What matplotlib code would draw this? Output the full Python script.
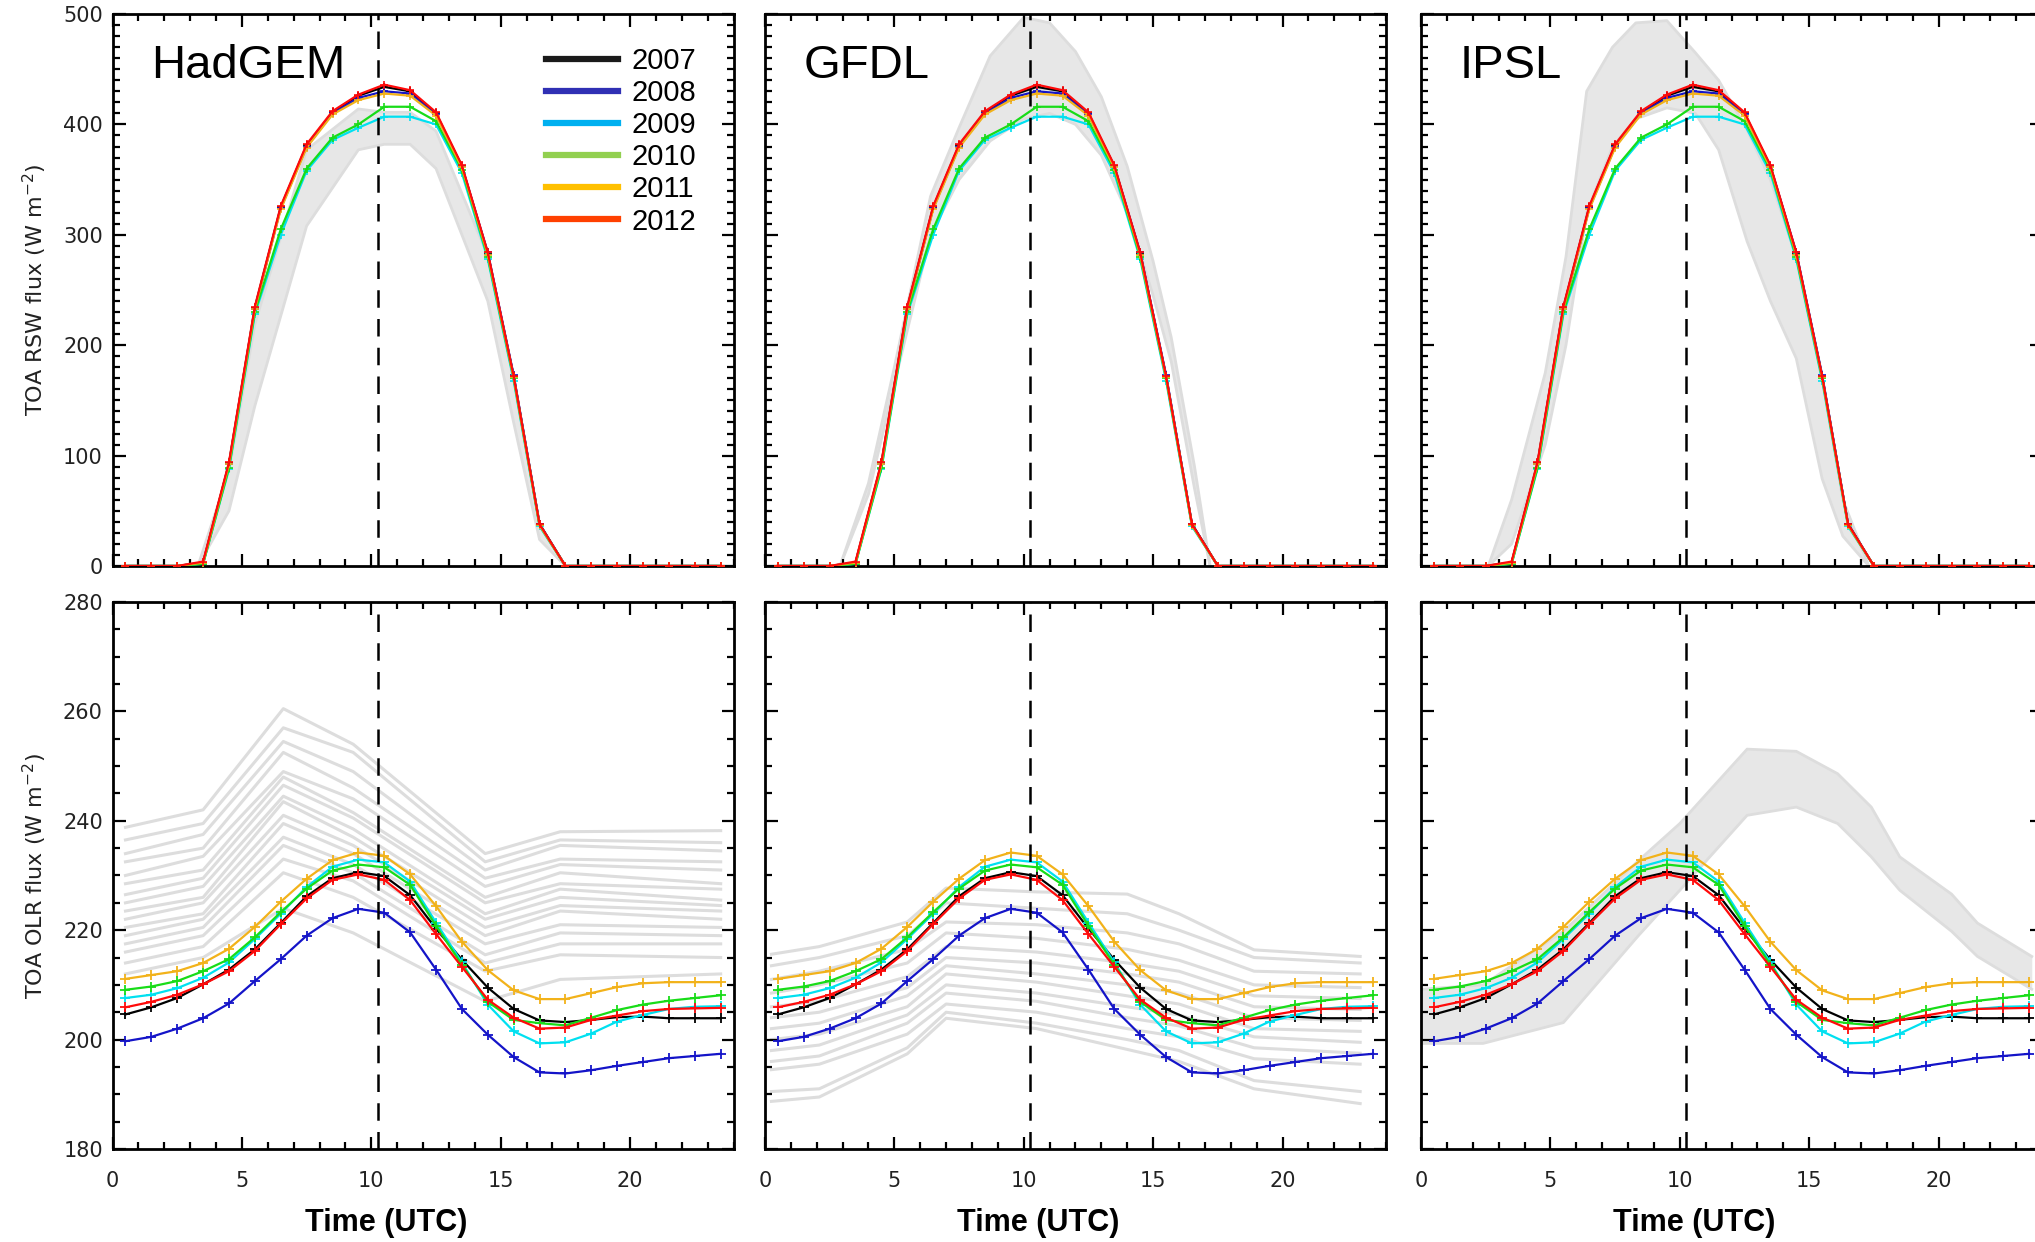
import matplotlib
matplotlib.use("Agg")
import matplotlib.pyplot as plt
from matplotlib.lines import Line2D
from matplotlib.ticker import MultipleLocator

# ---------------- data ----------------
hours = [0.5, 1.5, 2.5, 3.5, 4.5, 5.5, 6.5, 7.5, 8.5, 9.5, 10.5, 11.5,
         12.5, 13.5, 14.5, 15.5, 16.5, 17.5, 18.5, 19.5, 20.5, 21.5, 22.5, 23.5]
years = ["2007", "2008", "2009", "2010", "2011", "2012"]
line_colors = ["#000000", "#1414c8", "#00e0f0", "#18dc18", "#f2b21a", "#ff0a0a"]
legend_colors = ["#1a1a1a", "#3030b4", "#00b0f0", "#92d050", "#ffc000", "#ff4000"]
models = ["HadGEM", "GFDL", "IPSL"]

# TOA reflected shortwave (W m-2), observations
rsw_2007 = [0, 0, 0, 3, 93, 234, 325, 381, 411, 426, 434, 430, 410, 362, 283, 172, 38, 0, 0, 0, 0, 0, 0, 0]
rsw_2008 = [0, 0, 0, 3, 92, 233, 324, 380, 410, 424, 430, 428, 409, 362, 284, 173, 38, 0, 0, 0, 0, 0, 0, 0]
rsw_2009 = [0, 0, 0, 2, 88, 228, 300, 358, 386, 397, 407, 407, 400, 356, 278, 168, 36, 0, 0, 0, 0, 0, 0, 0]
rsw_2010 = [0, 0, 0, 2, 89, 230, 305, 360, 388, 400, 416, 416, 403, 359, 280, 170, 37, 0, 0, 0, 0, 0, 0, 0]
rsw_2011 = [0, 0, 0, 3, 92, 233, 323, 379, 409, 422, 428, 426, 408, 361, 282, 171, 37, 0, 0, 0, 0, 0, 0, 0]
rsw_2012 = [0, 0, 0, 4, 94, 235, 326, 382, 412, 427, 436, 431, 411, 363, 284, 172, 38, 0, 0, 0, 0, 0, 0, 0]

# TOA outgoing longwave (W m-2), observations
olr_2007 = [204.6, 205.9, 207.6, 210.1, 212.8, 216.5, 221.3, 226.2, 229.5, 230.6, 229.9, 226.4,
            220.3, 214.6, 209.5, 205.6, 203.5, 203.2, 203.6, 204.1, 204.2, 203.9, 203.9, 203.9]
olr_2008 = [199.7, 200.5, 202.0, 203.9, 206.6, 210.7, 214.7, 219.0, 222.2, 223.9, 223.2, 219.6,
            212.8, 205.6, 200.9, 196.8, 194.0, 193.8, 194.4, 195.2, 195.9, 196.6, 197.0, 197.4]
olr_2009 = [207.6, 208.2, 209.4, 211.3, 214.1, 218.4, 223.0, 227.9, 231.6, 232.9, 232.4, 228.9,
            221.4, 214.1, 206.4, 201.5, 199.3, 199.5, 201.1, 203.3, 204.5, 205.6, 206.0, 206.1]
olr_2010 = [209.1, 209.7, 210.7, 212.5, 214.7, 218.7, 223.3, 227.6, 230.9, 232.0, 231.5, 228.3,
            220.8, 213.7, 206.9, 203.6, 203.0, 202.6, 204.0, 205.4, 206.4, 207.1, 207.6, 208.1]
olr_2011 = [211.1, 211.8, 212.5, 214.0, 216.6, 220.6, 225.2, 229.4, 232.8, 234.2, 233.6, 230.2,
            224.4, 217.9, 212.7, 209.0, 207.4, 207.4, 208.5, 209.6, 210.3, 210.5, 210.5, 210.5]
olr_2012 = [205.9, 206.9, 208.2, 210.1, 212.5, 216.2, 221.1, 225.8, 229.2, 230.2, 229.2, 225.5,
            219.3, 213.3, 207.3, 204.0, 202.0, 202.2, 203.6, 204.4, 205.2, 205.6, 205.7, 205.8]

rsw_obs = [rsw_2007, rsw_2008, rsw_2009, rsw_2010, rsw_2011, rsw_2012]
olr_obs = [olr_2007, olr_2008, olr_2009, olr_2010, olr_2011, olr_2012]

# Model ensembles (grey) -- RSW envelopes
had_rsw_x = [3.3, 4.5, 5.5, 7.5, 9.5, 10.5, 11.5, 12.5, 14.5, 15.5, 16.5, 17.5]
had_rsw_hi = [0, 86, 219, 377, 414, 411, 411, 394, 281, 171, 38, 0]
had_rsw_lo = [0, 50, 145, 308, 377, 382, 382, 360, 240, 130, 24, 0]

gfdl_rsw_x = [2.9, 4.0, 5.0, 6.4, 7.5, 8.7, 10.0, 11.0, 12.0, 13.0, 14.0, 15.0, 15.7, 16.6, 17.2]
gfdl_rsw_hi = [0, 75, 180, 335, 397, 462, 497, 492, 466, 425, 362, 276, 207, 90, 0]
gfdl_rsw_lo = [0, 65, 165, 300, 350, 385, 405, 410, 400, 372, 320, 245, 185, 70, 0]

ipsl_rsw_x = [2.6, 3.5, 4.8, 5.6, 6.4, 7.4, 8.3, 9.5, 10.6, 11.5, 12.6, 13.5, 14.5, 15.5, 16.3, 17.3]
ipsl_rsw_hi = [0, 60, 175, 280, 430, 470, 492, 494, 465, 440, 395, 350, 280, 170, 60, 0]
ipsl_rsw_lo = [0, 20, 110, 200, 320, 380, 405, 415, 410, 377, 294, 240, 188, 79, 27, 0]

# Model ensembles (grey) -- OLR members
had_olr_x = [0.5, 3.5, 6.6, 9.3, 14.4, 17.3, 23.5]
had_olr_members = [
    [238.8, 242.0, 260.5, 254.0, 234.0, 238.0, 238.2],
    [236.5, 239.5, 257.0, 252.5, 232.5, 236.5, 236.0],
    [234.0, 237.5, 254.5, 249.0, 231.0, 235.5, 234.5],
    [232.5, 235.0, 252.5, 246.0, 229.5, 233.0, 232.5],
    [230.0, 233.5, 249.0, 244.0, 228.0, 232.0, 231.0],
    [228.5, 231.0, 248.0, 241.5, 226.0, 230.5, 228.5],
    [226.5, 229.5, 246.5, 240.5, 225.0, 228.5, 227.5],
    [225.0, 228.0, 244.5, 238.5, 223.0, 227.5, 225.5],
    [223.5, 226.0, 243.5, 237.0, 222.0, 226.0, 224.5],
    [222.0, 225.0, 241.0, 235.5, 220.5, 224.5, 223.5],
    [220.5, 223.0, 239.5, 234.0, 219.0, 223.5, 222.0],
    [219.0, 222.0, 237.0, 232.0, 217.5, 221.0, 220.5],
    [217.5, 220.5, 235.5, 230.5, 215.5, 219.5, 219.0],
    [216.0, 219.0, 233.0, 229.0, 214.0, 217.5, 217.5],
    [214.0, 217.0, 230.5, 226.0, 212.5, 215.5, 215.0],
    [212.0, 215.0, 224.0, 219.5, 207.0, 211.0, 212.0],
]

gfdl_olr_x = [0.25, 2.1, 5.5, 7.0, 10.5, 14.0, 16.0, 18.9, 23.0]
gfdl_olr_members = [
    [215.6, 217.0, 221.5, 227.7, 227.0, 226.6, 223.0, 216.4, 215.2],
    [213.5, 215.0, 219.0, 225.0, 224.0, 223.0, 220.0, 215.0, 214.0],
    [211.0, 212.5, 216.5, 221.5, 221.0, 219.5, 217.5, 212.5, 212.0],
    [208.5, 210.0, 214.0, 219.5, 218.5, 216.5, 214.5, 210.0, 209.5],
    [206.0, 207.0, 211.5, 217.0, 216.0, 214.0, 212.5, 208.0, 207.5],
    [204.0, 205.0, 209.5, 215.0, 214.0, 212.0, 210.5, 206.0, 205.5],
    [202.0, 203.0, 208.0, 213.5, 212.0, 210.0, 208.5, 204.0, 203.5],
    [200.0, 201.0, 206.0, 212.0, 210.5, 208.0, 206.5, 202.0, 201.5],
    [198.0, 199.0, 204.5, 210.0, 208.5, 206.0, 204.5, 200.5, 199.5],
    [196.0, 197.0, 203.0, 208.5, 207.0, 204.0, 202.5, 198.5, 197.5],
    [194.5, 195.5, 201.0, 206.5, 205.0, 202.0, 200.5, 196.5, 195.5],
    [190.5, 191.0, 198.5, 205.0, 203.0, 200.0, 198.0, 192.5, 190.5],
    [188.7, 189.5, 197.4, 203.9, 202.0, 198.2, 196.0, 191.0, 188.3],
]

ipsl_olr_x = [0.0, 2.4, 5.5, 8.4, 10.0, 12.6, 14.5, 16.1, 17.4, 18.5, 20.5, 21.5, 23.6]
ipsl_olr_hi = [209.2, 210.0, 219.8, 232.7, 239.5, 253.1, 252.7, 248.6, 242.5, 233.4, 226.6, 221.3, 215.2]
ipsl_olr_lo = [199.3, 199.3, 203.1, 219.0, 227.3, 241.0, 242.5, 239.5, 233.4, 227.3, 219.8, 215.2, 209.2]

rsw_grey = [(had_rsw_x, had_rsw_lo, had_rsw_hi),
            (gfdl_rsw_x, gfdl_rsw_lo, gfdl_rsw_hi),
            (ipsl_rsw_x, ipsl_rsw_lo, ipsl_rsw_hi)]

overpass_hour = 10.25

# ---------------- figure ----------------
GREY_FILL = "#e7e7e7"
GREY_LINE = "#dddddd"

fig = plt.figure(figsize=(20.35, 12.42), dpi=100)

lefts = [0.0553, 0.3759, 0.6983]
width = 0.3052
top_b, top_h = 0.5443, 0.4444
bot_b, bot_h = 0.0749, 0.4404


def style_axes(ax, bottom_labels, left_labels, ymaj, ymin):
    ax.set_xlim(0, 24)
    ax.xaxis.set_major_locator(MultipleLocator(5))
    ax.xaxis.set_minor_locator(MultipleLocator(1))
    ax.yaxis.set_major_locator(MultipleLocator(ymaj))
    ax.yaxis.set_minor_locator(MultipleLocator(ymin))
    ax.tick_params(which="both", direction="in", top=True, right=True,
                   width=1.6, colors="black", labelcolor="#222222")
    ax.tick_params(which="major", length=9)
    ax.tick_params(which="minor", length=5)
    ax.tick_params(axis="x", pad=16, labelbottom=bottom_labels)
    ax.tick_params(axis="y", pad=7, labelleft=left_labels)
    for lab in ax.get_xticklabels() + ax.get_yticklabels():
        lab.set_fontfamily("DejaVu Sans")
        lab.set_fontsize(15)
    for sp in ax.spines.values():
        sp.set_linewidth(2.0)


for i, model in enumerate(models):
    # ---- top: RSW ----
    ax = fig.add_axes([lefts[i], top_b, width, top_h])
    gx, glo, ghi = rsw_grey[i]
    ax.fill_between(gx, glo, ghi, color=GREY_FILL, lw=0, zorder=1)
    ax.plot(gx, ghi, color=GREY_LINE, lw=2, zorder=1.2)
    ax.plot(gx, glo, color=GREY_LINE, lw=2, zorder=1.2)
    for vals, c in zip(rsw_obs, line_colors):
        ax.plot(hours, vals, color=c, lw=1.6, marker="+", ms=6, mew=1.2, zorder=3)
    ax.axvline(overpass_hour, color="black", lw=1.8, dashes=(7, 4.5), zorder=4)
    ax.set_ylim(0, 500)
    style_axes(ax, False, i == 0, 100, 10)
    ax.text(0.062, 0.906, model, transform=ax.transAxes, fontsize=34,
            family="Liberation Sans", va="center", ha="left")
    if i == 0:
        ax.set_ylabel("TOA RSW flux (W m$^{-2}$)", fontsize=16,
                      family="DejaVu Sans", labelpad=10, color="#222222")
        handles = [Line2D([], [], color=c, lw=4.5) for c in legend_colors]
        ax.legend(handles, years, loc="upper right", bbox_to_anchor=(0.94, 0.94),
                  frameon=False, prop=dict(family="Liberation Sans", size=21),
                  handlelength=2.5, handletextpad=0.45, labelspacing=0.14,
                  borderpad=0.0, borderaxespad=0.0)

    # ---- bottom: OLR ----
    ax = fig.add_axes([lefts[i], bot_b, width, bot_h])
    if i == 0:
        for m in had_olr_members:
            ax.plot(had_olr_x, m, color=GREY_LINE, lw=2.2, zorder=1)
    elif i == 1:
        for m in gfdl_olr_members:
            ax.plot(gfdl_olr_x, m, color=GREY_LINE, lw=2.2, zorder=1)
    else:
        ax.fill_between(ipsl_olr_x, ipsl_olr_lo, ipsl_olr_hi, color=GREY_FILL, lw=0, zorder=1)
        ax.plot(ipsl_olr_x, ipsl_olr_hi, color=GREY_LINE, lw=2, zorder=1.2)
        ax.plot(ipsl_olr_x, ipsl_olr_lo, color=GREY_LINE, lw=2, zorder=1.2)
    for vals, c in zip(olr_obs, line_colors):
        ax.plot(hours, vals, color=c, lw=1.6, marker="+", ms=7, mew=1.3, zorder=3)
    ax.axvline(overpass_hour, color="black", lw=1.8, dashes=(7, 4.5), zorder=4)
    ax.set_ylim(180, 280)
    style_axes(ax, True, i == 0, 20, 5)
    if i == 0:
        ax.set_ylabel("TOA OLR flux (W m$^{-2}$)", fontsize=16,
                      family="DejaVu Sans", labelpad=10, color="#222222")
    ax.text(0.44, -0.135, "Time (UTC)", transform=ax.transAxes, fontsize=22,
            family="Liberation Sans", fontweight="bold", ha="center", va="center")

fig.savefig("out.png", dpi=100)
